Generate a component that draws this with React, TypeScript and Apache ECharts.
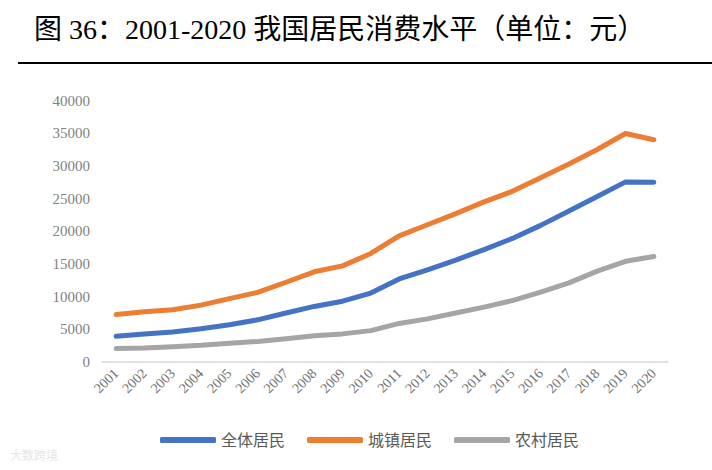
import React, { useEffect, useRef } from "react";
import * as echarts from "echarts";

const years = ["2001","2002","2003","2004","2005","2006","2007","2008","2009","2010","2011","2012","2013","2014","2015","2016","2017","2018","2019","2020"];
const allResidents = [3950, 4300, 4600, 5100, 5700, 6450, 7500, 8500, 9300, 10550, 12700, 14100, 15600, 17200, 18900, 20900, 23100, 25300, 27550, 27500];
const urbanResidents = [7250, 7700, 8000, 8700, 9700, 10650, 12200, 13800, 14700, 16600, 19300, 21000, 22700, 24500, 26100, 28200, 30300, 32500, 34950, 34000];
const ruralResidents = [2050, 2150, 2350, 2550, 2850, 3150, 3550, 4000, 4300, 4800, 5900, 6600, 7500, 8400, 9400, 10700, 12100, 13900, 15400, 16150];
const seriesNames = ["全体居民", "城镇居民", "农村居民"];
const titleText = "图 36：2001-2020 我国居民消费水平（单位：元）";

const serif = '"Liberation Serif", "Noto Sans CJK SC", serif';

export default function App() {
  const ref = useRef<HTMLDivElement>(null);
  useEffect(() => {
    if (!ref.current) return;
    const chart = echarts.init(ref.current, null, { renderer: "svg" });
    const mk = (name: string, data: number[], color: string) => ({
      name,
      type: "line",
      data,
      symbol: "none",
      smooth: false,
      lineStyle: { width: 5, color, cap: "round", join: "round" },
      itemStyle: { color },
    });
    chart.setOption({
      animation: false,
      backgroundColor: "#ffffff",
      textStyle: { fontFamily: serif },
      graphic: [
        {
          type: "text",
          left: 34,
          top: 15,
          style: { text: titleText, fontSize: 28, fill: "#000", fontFamily: serif },
        },
        {
          type: "rect",
          shape: { x: 18, y: 62, width: 694, height: 2 },
          style: { fill: "#000" },
        },
        {
          type: "text",
          left: 10,
          top: 450,
          style: { text: "大数跨境", fontSize: 12, fill: "#e6e6e6", fontFamily: serif },
        },
      ],
      grid: { left: 102, right: 44, top: 100.5, bottom: 108, containLabel: false },
      legend: {
        left: 155,
        top: 427,
        itemWidth: 56,
        itemHeight: 6,
        itemGap: 22,
        icon: "roundRect",
        textStyle: { fontSize: 16, color: "#595959", fontFamily: serif },
        data: seriesNames,
      },
      xAxis: {
        type: "category",
        data: years,
        boundaryGap: true,
        axisLine: { lineStyle: { color: "#d9d9d9", width: 1.5 } },
        axisTick: { show: false },
        axisLabel: { rotate: 45, fontSize: 14, color: "#6f6f6f", fontFamily: serif, margin: 9, interval: 0 },
      },
      yAxis: {
        type: "value",
        min: 0,
        max: 40000,
        interval: 5000,
        axisLine: { show: false },
        axisTick: { show: false },
        splitLine: { show: false },
        axisLabel: {
          fontSize: 15,
          color: "#7f7f7f",
          fontFamily: serif,
          margin: 12,
          formatter: (v: number) => String(v),
        },
      },
      series: [
        mk(seriesNames[0], allResidents, "#4472c4"),
        mk(seriesNames[1], urbanResidents, "#ed7d31"),
        mk(seriesNames[2], ruralResidents, "#a5a5a5"),
      ],
    });
    return () => chart.dispose();
  }, []);
  return <div ref={ref} style={{ width: 712, height: 470, position: "absolute", left: 0, top: 0 }} />;
}
